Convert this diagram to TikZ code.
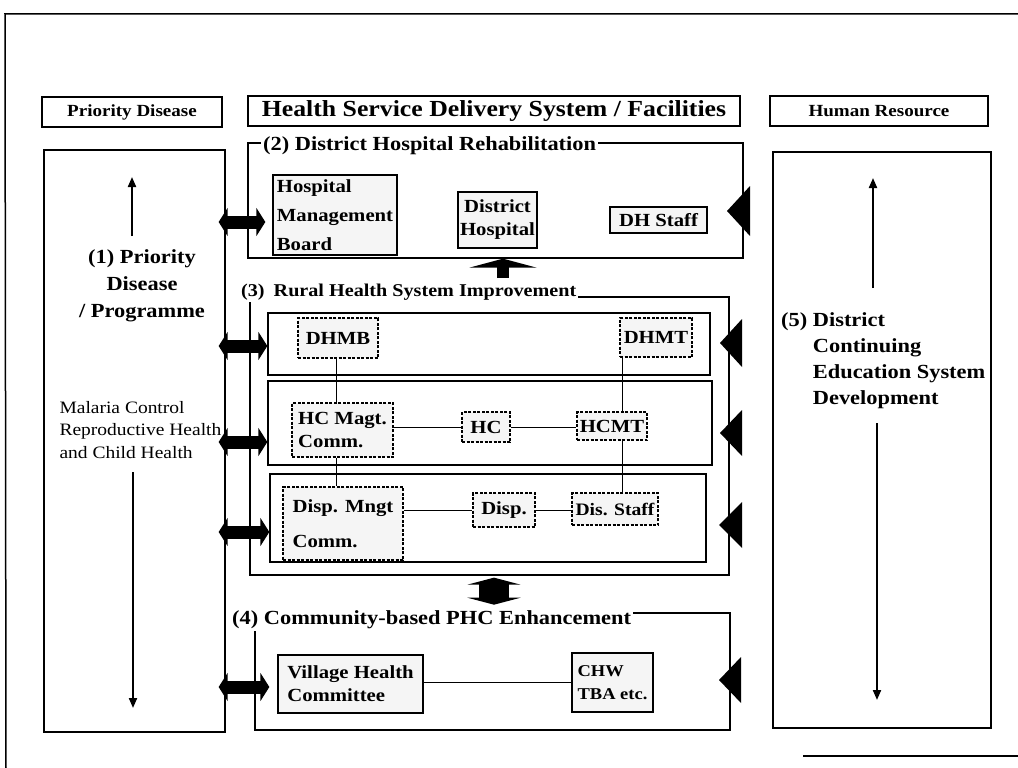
\documentclass[tikz,border=0pt]{standalone}
\usepackage{fontspec}
\setmainfont{Liberation Serif}[FakeStretch=1.12]
\usetikzlibrary{arrows.meta}
\begin{document}
\begin{tikzpicture}[x=1pt,y=-1pt,
  frame/.style={line width=1.5pt},
  box/.style={draw, line width=1.3pt, inner sep=0pt},
  solidbox/.style={box, fill=black!4, font=\fontsize{18.5}{23}\selectfont\bfseries},
  dashbox/.style={box, dash pattern=on 3pt off 1.5pt, line width=1.1pt, fill=black!4, font=\fontsize{18.5}{23}\selectfont\bfseries},
  sectitle/.style={fill=white, inner sep=2pt, anchor=west, font=\fontsize{20}{24}\selectfont\bfseries},
  link/.style={line width=1pt},
  dbl/.style={line width=13pt, {Triangle[length=9pt,width=28pt]}-{Triangle[length=9pt,width=28pt]}},
  colarrow/.style={line width=2pt, -{Triangle[length=10pt,width=8pt]}},
  tri/.style={fill=black}]
\useasboundingbox (0,0) rectangle (1018,768);

% page frame
\coordinate (f1) at (5,14);
\coordinate (f2) at (1018,14);
\coordinate (f3) at (6,768);
\coordinate (f4) at (803,756);
\coordinate (f5) at (1018,756);
\draw[frame] (f2) -- (f1) -- (f3);
\draw[frame] (f4) -- (f5);

% headers
\node[box, minimum width=180pt, minimum height=30pt, font=\fontsize{17}{20}\selectfont\bfseries] (h1) at (132,112) {Priority Disease};
\node[box, minimum width=492pt, minimum height=30pt, font=\fontsize{23}{26}\selectfont\bfseries] (h2) at (494,111) {Health Service Delivery System / Facilities};
\node[box, minimum width=218pt, minimum height=30pt, font=\fontsize{17}{20}\selectfont\bfseries] (h3) at (879,111) {Human Resource};

% side columns
\node[box, minimum width=181pt, minimum height=582pt] (lc) at (134.5,441) {};
\node[box, minimum width=218pt, minimum height=576pt] (rc) at (882,440) {};

% left column content
\coordinate (la1) at (132,236);
\coordinate (la2) at (132,177);
\coordinate (la3) at (133,472);
\coordinate (la4) at (133,708);
\draw[colarrow] (la1) -- (la2);
\draw[colarrow] (la3) -- (la4);
\node[align=center, font=\fontsize{20}{27}\selectfont\bfseries] (t1) at (142,286) {(1) Priority\\Disease\\/ Programme};
\node[align=left, anchor=west, font=\fontsize{17.4}{22.5}\selectfont] (mal) at (56,430) {Malaria Control\\Reproductive Health\\and Child Health};

% right column content
\coordinate (ra1) at (873,288);
\coordinate (ra2) at (873,178);
\coordinate (ra3) at (877,423);
\coordinate (ra4) at (877,700);
\draw[colarrow] (ra1) -- (ra2);
\draw[colarrow] (ra3) -- (ra4);
\node[anchor=west, inner sep=0pt, font=\fontsize{20}{26}\selectfont\bfseries] (t5) at (781,360)
  {\begin{tabular}{@{}l@{\ }l@{}}(5)&District\\&Continuing\\&Education System\\&Development\end{tabular}};

% section boxes
\node[box, minimum width=495pt, minimum height=115pt] (sec2) at (495.5,200.5) {};
\node[box, minimum width=479pt, minimum height=278pt] (sec3) at (489.5,436) {};
\node[box, minimum width=442pt, minimum height=62pt] (r1) at (489,344) {};
\node[box, minimum width=444pt, minimum height=84pt] (r2) at (490,423) {};
\node[box, minimum width=436pt, minimum height=88pt] (r3) at (488,518) {};
\node[box, minimum width=475pt, minimum height=117pt] (sec4) at (492.5,671.5) {};

% section titles
\node[sectitle] (t2) at (261,146) {(2) District Hospital Rehabilitation};
\node[sectitle, font=\fontsize{18}{22}\selectfont\bfseries] (t3) at (239,292) {(3)\enspace Rural Health System Improvement};
\node[sectitle] (t4) at (230,620) {(4) Community-based PHC Enhancement};

% (2) contents
\node[solidbox, minimum width=124pt, minimum height=80pt, align=left, font=\fontsize{18.5}{29}\selectfont\bfseries] (hmb) at (335,215) {Hospital\\Management\\Board};
\node[solidbox, minimum width=79pt, minimum height=56pt, align=center] (dh) at (497.5,220) {District\\Hospital};
\node[solidbox, minimum width=97pt, minimum height=26pt] (dhs) at (658.5,220) {DH Staff};

% (3) contents
\node[dashbox, minimum width=80pt, minimum height=40pt] (dhmb) at (338,338) {DHMB};
\node[dashbox, minimum width=72pt, minimum height=39pt] (dhmt) at (656,337.5) {DHMT};
\node[dashbox, minimum width=101pt, minimum height=54pt, align=left] (hcm) at (342.5,430) {HC Magt.\\Comm.};
\node[dashbox, minimum width=48pt, minimum height=30pt] (hc) at (486,427) {HC};
\node[dashbox, minimum width=70pt, minimum height=28pt] (hcmt) at (612,426) {HCMT};
\node[dashbox, minimum width=120pt, minimum height=73pt, align=left, font=\fontsize{18.5}{35}\selectfont\bfseries] (dmc) at (343,523.5) {Disp. Mngt\\Comm.};
\node[dashbox, minimum width=62pt, minimum height=34pt] (disp) at (504,510) {Disp.};
\node[dashbox, minimum width=86pt, minimum height=32pt, font=\fontsize{17.5}{23}\selectfont\bfseries] (dis) at (615,509) {Dis. Staff};

% (4) contents
\node[solidbox, minimum width=145pt, minimum height=58pt, align=left] (vhc) at (350.5,684) {Village Health\\Committee};
\node[solidbox, minimum width=81pt, minimum height=59pt, align=left, font=\fontsize{16.5}{23}\selectfont\bfseries] (chw) at (612.5,682.5) {CHW\\TBA etc.};

% links
\coordinate (xl) at (336,0);
\coordinate (xr) at (622,0);
\draw[link] (dhmb.south -| xl) -- (hcm.north -| xl);
\draw[link] (hcm.south -| xl) -- (dmc.north -| xl);
\draw[link] (dhmt.south -| xr) -- (hcmt.north -| xr);
\draw[link] (hcmt.south -| xr) -- (dis.north -| xr);
\draw[link] (hcm.east |- hc) -- (hc.west);
\draw[link] (hc.east) -- (hcmt.west |- hc);
\draw[link] (dmc.east |- disp) -- (disp.west);
\draw[link] (disp.east) -- (dis.west |- disp);
\draw[link] (vhc.east |- chw) -- (chw.west);

% double arrows from priority disease column
\coordinate (y2) at (0,222);
\coordinate (y3a) at (0,346);
\coordinate (y3b) at (0,442);
\coordinate (y3c) at (0,532);
\coordinate (y4) at (0,687);
\draw[dbl] ([xshift=-7pt]lc.east |- y2) -- ([xshift=-7pt]hmb.west |- y2);
\draw[dbl] ([xshift=-7pt]lc.east |- y3a) -- (r1.west |- y3a);
\draw[dbl] ([xshift=-7pt]lc.east |- y3b) -- (r2.west |- y3b);
\draw[dbl] ([xshift=-7pt]lc.east |- y3c) -- (r3.west |- y3c);
\draw[dbl] ([xshift=-7pt]lc.east |- y4) -- ([xshift=-8pt]vhc.west |- y4);

% block arrows between sections
\coordinate (u1) at (503,278);
\draw[line width=12pt, -{Triangle[length=9pt,width=67pt]}] (u1) -- (u1 |- sec2.south);
\coordinate (d1) at (494,0);
\draw[line width=30pt, {Triangle[length=7pt,width=53pt]}-{Triangle[length=7pt,width=53pt]}] ([yshift=-2pt]sec3.south -| d1) -- ([yshift=4pt]t4.north -| d1);

% arrowheads from human resource column
\fill[tri] (750,186) -- (727,211) -- (750,236) -- cycle;
\fill[tri] (742,319) -- (720,343) -- (742,367) -- cycle;
\fill[tri] (742,410) -- (720,433) -- (742,456) -- cycle;
\fill[tri] (742,502) -- (719,525) -- (742,548) -- cycle;
\fill[tri] (741,657) -- (719,680) -- (741,703) -- cycle;
\end{tikzpicture}
\end{document}
